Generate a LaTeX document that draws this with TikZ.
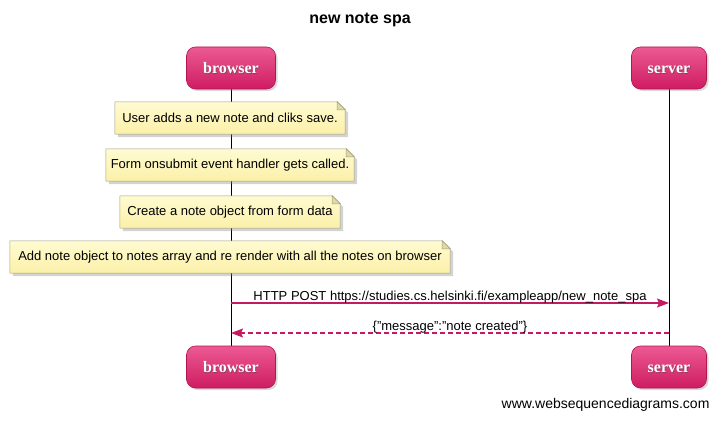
\documentclass[tikz,border=0pt]{standalone}
\usepackage{fontspec}
\setmainfont{Liberation Sans}
\newfontfamily\boxfont{Liberation Serif}
\usetikzlibrary{shadows,arrows.meta}
\definecolor{actorTop}{HTML}{EC5A92}
\definecolor{actorBot}{HTML}{CF1C62}
\definecolor{actorEdge}{HTML}{B0174F}
\definecolor{msgcol}{HTML}{C41A62}
\definecolor{noteTop}{HTML}{FFFBD2}
\definecolor{noteBot}{HTML}{FBF0A8}
\definecolor{noteEdge}{HTML}{9E9E80}
\pgfdeclarelayer{life}
\pgfdeclarelayer{notes}
\pgfsetlayers{life,notes,main}
\tikzset{
  actor/.style={rounded corners=9pt, minimum width=#1, minimum height=42pt,
    top color=actorTop, bottom color=actorBot, draw=actorEdge, line width=0.6pt,
    drop shadow={opacity=0.3, shadow xshift=2pt, shadow yshift=-2pt}},
  actortext/.style={font=\boxfont\bfseries\fontsize{16}{19}\selectfont, text height=11pt, text depth=0pt, inner sep=0pt},
  notetext/.style={minimum width=#1, minimum height=32pt, inner sep=0pt,
    font=\fontsize{13}{15}\selectfont},
  noteshape/.style={top color=noteTop, bottom color=noteBot, draw=noteEdge, line width=0.5pt,
    drop shadow={opacity=0.35, shadow xshift=3pt, shadow yshift=-3pt}},
  foldline/.style={draw=noteEdge, line width=0.5pt, fill=noteBot!80!gray},
  lifeline/.style={draw=black, line width=0.8pt},
  msg/.style={draw=msgcol, line width=1.4pt, -{Stealth[length=12pt,width=9pt,inset=2pt]}},
  reply/.style={msg, dash pattern=on 5pt off 3pt},
  msglabel/.style={font=\fontsize{13}{15}\selectfont, inner sep=1pt},
}
\newcommand\myactor[4]{%
  \node[actor=#3] (#1) at #2 {};
  \node[actortext, text=black!70, opacity=0.6, xshift=0.8pt, yshift=-0.8pt] at (#1) {#4};
  \node[actortext, text=white] at (#1) {#4};}
\newcommand\mynote[4]{%
  \node[notetext=#3] (#1) at #2 {#4};
  \begin{pgfonlayer}{notes}
    \path[noteshape] (#1.north west) -- ([xshift=-8pt]#1.north east) -- ([yshift=-8pt]#1.north east)
      -- (#1.south east) -- (#1.south west) -- cycle;
    \path[foldline] ([xshift=-8pt]#1.north east) -- ([xshift=-8pt,yshift=-8pt]#1.north east)
      -- ([yshift=-8pt]#1.north east) -- cycle;
  \end{pgfonlayer}}
\begin{document}
\begin{tikzpicture}[x=1pt,y=-1pt]
\useasboundingbox (0,0) rectangle (719,420);
\node[font=\bfseries\fontsize{16}{18}\selectfont] (title) at (360,20) {new note spa};

\myactor{bt}{(231,68)}{89pt}{browser}
\myactor{st}{(669,68)}{75pt}{server}
\myactor{bb}{(231,367)}{89pt}{browser}
\myactor{sb}{(669,367)}{75pt}{server}

\begin{pgfonlayer}{life}
  \draw[lifeline] (bt.south) -- (bb.north);
  \draw[lifeline] (st.south) -- (sb.north);
\end{pgfonlayer}

\mynote{n1}{(230,118)}{230pt}{User adds a new note and cliks save.}
\mynote{n2}{(230,165)}{248pt}{Form onsubmit event handler gets called.}
\mynote{n3}{(230,212)}{220pt}{Create a note object from form data}
\mynote{n4}{(230,257)}{440pt}{Add note object to notes array and re render with all the notes on browser}

\coordinate (m1a) at (bt |- 0,303);
\coordinate (m1b) at (st |- 0,303);
\coordinate (m2a) at (st |- 0,333);
\coordinate (m2b) at (bt |- 0,333);
\draw[msg] (m1a) -- node[msglabel, above=-1.5pt] {HTTP POST https://studies.cs.helsinki.fi/exampleapp/new\_note\_spa} (m1b);
\draw[reply] (m2a) -- node[msglabel, above=-1.5pt] {\{"message":"note created"\}} (m2b);

\node[font=\fontsize{14}{16}\selectfont, anchor=east] (footer) at (713,405) {www.websequencediagrams.com};
\end{tikzpicture}
\end{document}
